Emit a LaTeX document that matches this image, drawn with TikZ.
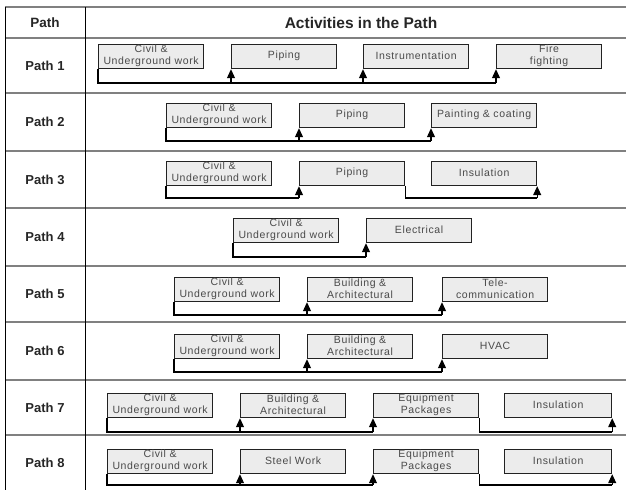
\documentclass[tikz,border=0pt]{standalone}
\usepackage{fontspec}
\setmainfont{Liberation Sans}
\newfontfamily\boxfont[LetterSpace=6]{Liberation Sans}
\usetikzlibrary{arrows.meta}
\definecolor{boxfill}{HTML}{ECECEC}
\definecolor{boxline}{HTML}{222222}
\definecolor{boxtext}{HTML}{4A4A4A}
\definecolor{sepline}{HTML}{808080}
\tikzset{
  boxlbl/.style={inner sep=0pt, align=center, text=boxtext, yshift=1pt,
    font=\boxfont\fontsize{10.5}{11.5}\selectfont},
  act/.style={draw=boxline, line width=1.2pt, fill=boxfill, minimum width=105pt, minimum height=24pt,
    inner sep=0pt, anchor=north west, label={[boxlbl]center:#1}},
  wact/.style={act=#1, minimum width=107pt},
  conn/.style={line width=1.1pt, black},
  arr/.style={conn, -{Triangle[width=8pt,length=9pt]}},
  sep/.style={line width=1.8pt, sepline},
  vline/.style={line width=1pt, black},
  lbl/.style={font=\fontsize{13}{15}\bfseries\selectfont, text=black!85},
  hdr/.style={font=\fontsize{15.5}{17}\bfseries\selectfont, text=black!85},
  hdrs/.style={font=\fontsize{13.5}{15}\bfseries\selectfont, text=black!85},
}
\begin{document}
\begin{tikzpicture}[x=1pt,y=-1pt]
\useasboundingbox (0,0) rectangle (626,490);
% table lines
\foreach \yy in {7,38,93,151,208,266,322,380,435} \draw[sep] (5,\yy) -- (626,\yy);
\draw[vline] (5,7) -- (5,490);
\draw[vline] (85,7) -- (85,490);
% headers
\node[hdrs] (hpath) at (45,23) {Path};
\node[hdr] (hact) at (361,23) {Activities in the Path};
\node[lbl] (r1) at (45,66) {Path 1};
\node[lbl] (r2) at (45,122) {Path 2};
\node[lbl] (r3) at (45,180) {Path 3};
\node[lbl] (r4) at (45,237) {Path 4};
\node[lbl] (r5) at (45,294) {Path 5};
\node[lbl] (r6) at (45,351) {Path 6};
\node[lbl] (r7) at (45,408) {Path 7};
\node[lbl] (r8) at (45,463) {Path 8};

% Path 1
\node[act={Civil \&\\Underground work}] (c1) at (98,44) {};
\node[act={Piping}] (p1) at (231,44) {};
\node[act={Instrumentation}] (i1) at (363,44) {};
\node[act={Fire\\fighting}] (f1) at (496,44) {};
\coordinate (l1) at (0,83);
\draw[conn] (c1.south west) -- (c1.south west |- l1) -- (f1.south west |- l1);
\foreach \n in {p1,i1,f1} \draw[arr] (\n.south west |- l1) -- (\n.south west);

% Path 2
\node[act={Civil \&\\Underground work}] (c2) at (166,103) {};
\node[act={Piping}] (p2) at (299,103) {};
\node[act={Painting \& coating}] (pc2) at (431,103) {};
\coordinate (l2) at (0,141);
\draw[conn] (c2.south west) -- (c2.south west |- l2) -- (pc2.south west |- l2);
\foreach \n in {p2,pc2} \draw[arr] (\n.south west |- l2) -- (\n.south west);

% Path 3
\node[act={Civil \&\\Underground work}] (c3) at (166,161) {};
\node[act={Piping}] (p3) at (299,161) {};
\node[act={Insulation}] (in3) at (431,161) {};
\coordinate (l3) at (0,198);
\draw[conn] (c3.south west) -- (c3.south west |- l3) -- (p3.south west |- l3);
\draw[arr] (p3.south west |- l3) -- (p3.south west);
\draw[conn] (p3.south east) -- (p3.south east |- l3) -- (in3.south east |- l3);
\draw[arr] (in3.south east |- l3) -- (in3.south east);

% Path 4
\node[act={Civil \&\\Underground work}] (c4) at (233,218) {};
\node[act={Electrical}] (e4) at (366,218) {};
\coordinate (l4) at (0,257);
\draw[conn] (c4.south west) -- (c4.south west |- l4) -- (e4.south west |- l4);
\draw[arr] (e4.south west |- l4) -- (e4.south west);

% Path 5
\node[act={Civil \&\\Underground work}] (c5) at (174,277) {};
\node[act={Building \&\\Architectural}] (b5) at (307,277) {};
\node[act={Tele-\\communication}] (t5) at (442,277) {};
\coordinate (l5) at (0,315);
\draw[conn] (c5.south west) -- (c5.south west |- l5) -- (t5.south west |- l5);
\foreach \n in {b5,t5} \draw[arr] (\n.south west |- l5) -- (\n.south west);

% Path 6
\node[act={Civil \&\\Underground work}] (c6) at (174,334) {};
\node[act={Building \&\\Architectural}] (b6) at (307,334) {};
\node[act={HVAC}] (h6) at (442,334) {};
\coordinate (l6) at (0,372);
\draw[conn] (c6.south west) -- (c6.south west |- l6) -- (h6.south west |- l6);
\foreach \n in {b6,h6} \draw[arr] (\n.south west |- l6) -- (\n.south west);

% Path 7
\node[act={Civil \&\\Underground work}] (c7) at (107,393) {};
\node[act={Building \&\\Architectural}] (b7) at (240,393) {};
\node[act={Equipment\\Packages}] (q7) at (373,393) {};
\node[wact={Insulation}] (in7) at (504,393) {};
\coordinate (l7) at (0,432);
\draw[conn] (c7.south west) -- (c7.south west |- l7) -- (q7.south west |- l7);
\foreach \n in {b7,q7} \draw[arr] (\n.south west |- l7) -- (\n.south west);
\draw[conn] (q7.south east) -- (q7.south east |- l7) -- (in7.south east |- l7);
\draw[arr] (in7.south east |- l7) -- (in7.south east);

% Path 8
\node[act={Civil \&\\Underground work}] (c8) at (107,449) {};
\node[act={Steel Work}] (s8) at (240,449) {};
\node[act={Equipment\\Packages}] (q8) at (373,449) {};
\node[wact={Insulation}] (in8) at (504,449) {};
\coordinate (l8) at (0,485);
\draw[conn] (c8.south west) -- (c8.south west |- l8) -- (q8.south west |- l8);
\foreach \n in {s8,q8} \draw[arr] (\n.south west |- l8) -- (\n.south west);
\draw[conn] (q8.south east) -- (q8.south east |- l8) -- (in8.south east |- l8);
\draw[arr] (in8.south east |- l8) -- (in8.south east);
\end{tikzpicture}
\end{document}
